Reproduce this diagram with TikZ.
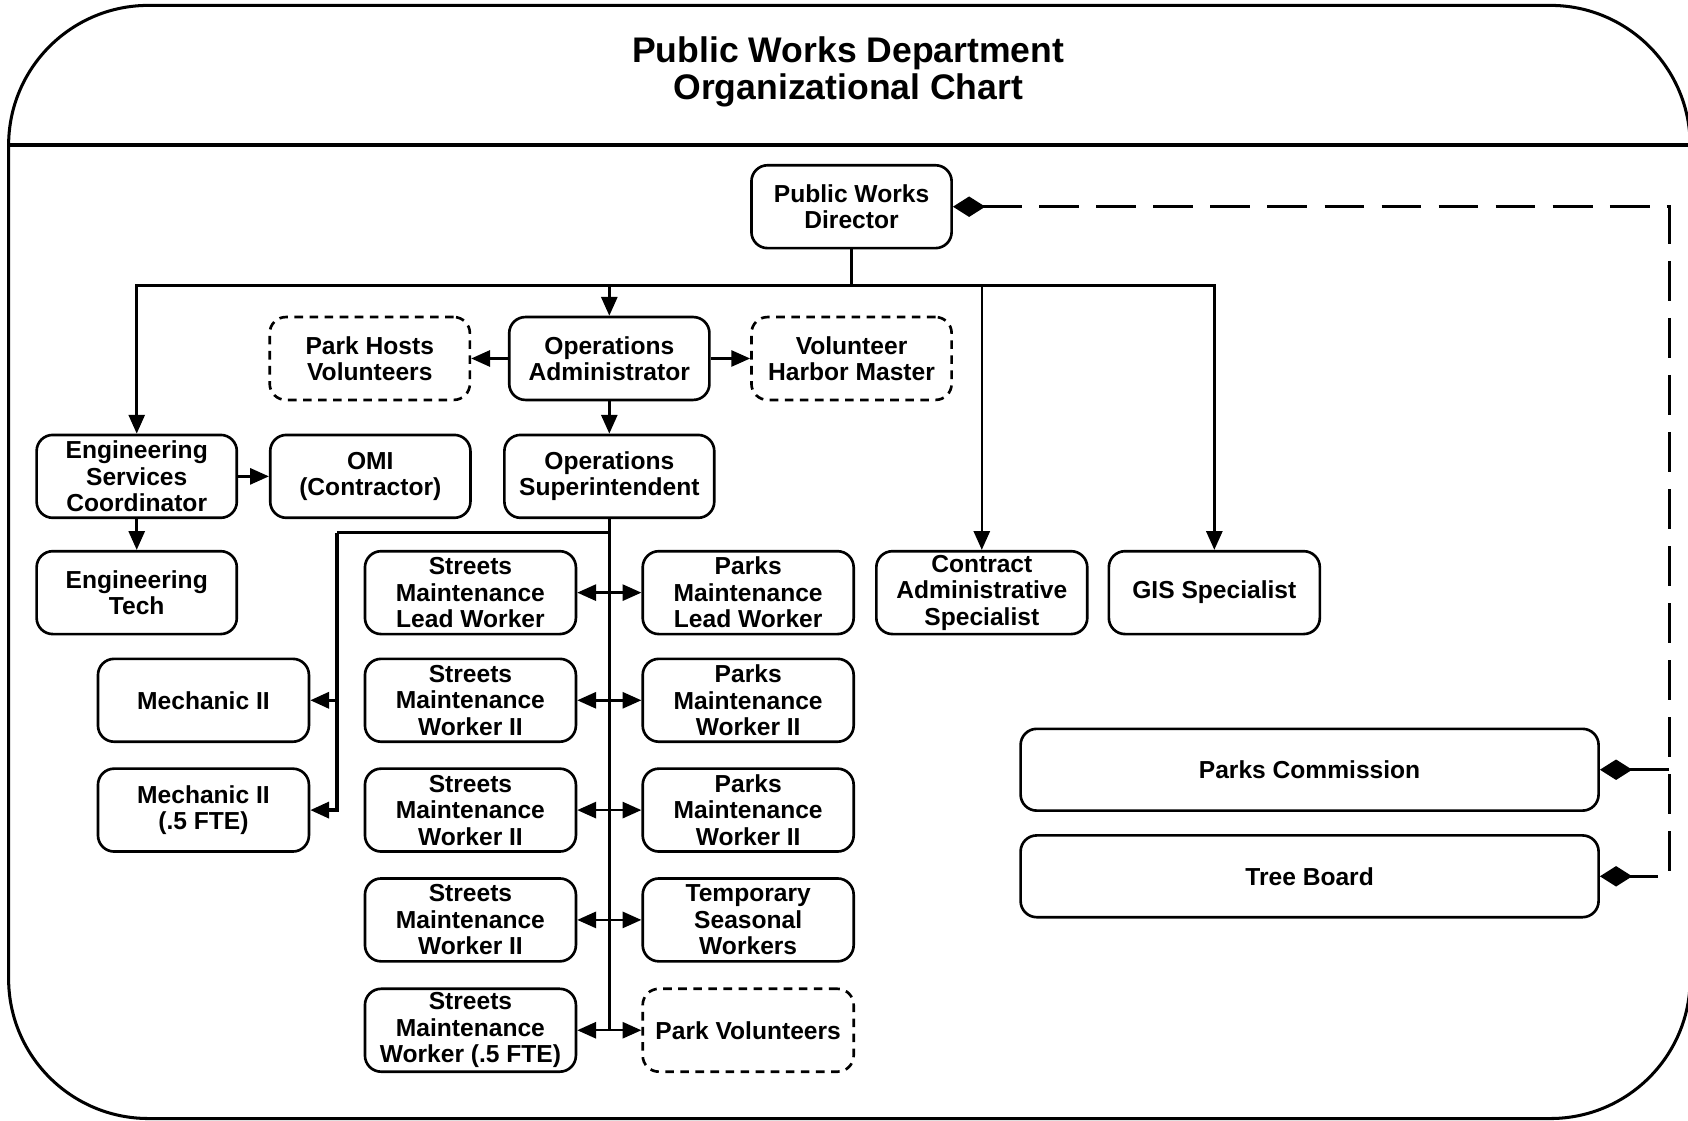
\documentclass[tikz,border=0pt]{standalone}
\usepackage{fontspec}
\setmainfont{Liberation Sans}
\usetikzlibrary{arrows.meta}

\begin{document}
\begin{tikzpicture}[x=0.02cm, y=-0.02cm,
    tri/.tip={Triangle[length=0.35cm, width=0.3cm]},
    dia/.tip={Diamond[length=0.6cm, width=0.38cm]},
    box/.style={draw, line width=1.4pt, rounded corners=0.3cm, align=center, inner sep=1pt,
        minimum width=3.72cm, minimum height=1.54cm, font=\fontsize{13}{14}\selectfont\bfseries},
    wbox/.style={box, minimum width=3.92cm},
    vol/.style={box, dash pattern=on 0.16cm off 0.12cm},
    board/.style={box, minimum width=10.74cm, minimum height=1.52cm},
    link/.style={line width=1.3pt},
    arrow/.style={link, -tri},
    dbl/.style={link, tri-tri},
    trunk/.style={line width=1.7pt},
    dline/.style={line width=1.7pt, dash pattern=on 0.74cm off 0.32cm}]

    % frame and title
    \useasboundingbox (0,0) rectangle (1568,1041);
    \begin{scope}
        \clip (0,0) rectangle (1568,1041);
        \draw[line width=1.6pt, rounded corners=2.6cm] (8,5) rectangle (1570,1039);
        \draw[line width=2pt] (8,135) -- (1570,135);
    \end{scope}
    \node[align=center, font=\fontsize{18.8}{19.5}\selectfont\bfseries] (title) at (788,67) {Public Works Department\\Organizational Chart};

    % top levels
    \node[box] (dir) at (791,192) {Public Works\\Director};
    \node[vol] (hosts) at (343.5,333) {Park Hosts\\Volunteers};
    \node[box] (opsadmin) at (566,333) {Operations\\Administrator};
    \node[vol] (harbor) at (791,333) {Volunteer\\Harbor Master};
    \node[box] (esc) at (127,442.5) {Engineering\\Services\\Coordinator};
    \node[box] (omi) at (344,442.5) {OMI\\(Contractor)};
    \node[box, minimum width=3.9cm] (opssup) at (566,442.5) {Operations\\Superintendent};
    \node[box] (engtech) at (127,550.5) {Engineering\\Tech};

    % crews
    \node[wbox] (slead) at (437,550.5) {Streets\\Maintenance\\Lead Worker};
    \node[wbox] (plead) at (695,550.5) {Parks\\Maintenance\\Lead Worker};
    \node[wbox] (cas) at (912,550.5) {Contract\\Administrative\\Specialist};
    \node[wbox] (gis) at (1128,550.5) {GIS Specialist};
    \node[wbox] (mech) at (189,650.5) {Mechanic II};
    \node[wbox] (sw1) at (437,650.5) {Streets\\Maintenance\\Worker II};
    \node[wbox] (pw1) at (695,650.5) {Parks\\Maintenance\\Worker II};
    \node[wbox] (mechhalf) at (189,752.5) {Mechanic II\\(.5 FTE)};
    \node[wbox] (sw2) at (437,752.5) {Streets\\Maintenance\\Worker II};
    \node[wbox] (pw2) at (695,752.5) {Parks\\Maintenance\\Worker II};
    \node[wbox] (sw3) at (437,854.5) {Streets\\Maintenance\\Worker II};
    \node[wbox] (temp) at (695,854.5) {Temporary\\Seasonal\\Workers};
    \node[wbox] (shalf) at (437,957) {Streets\\Maintenance\\Worker (.5 FTE)};
    \node[wbox, dash pattern=on 0.16cm off 0.12cm] (parkvol) at (695,957) {Park Volunteers};

    % boards
    \node[board] (parkcom) at (1216.5,715) {Parks Commission};
    \node[board] (tree) at (1216.5,814) {Tree Board};

    % reporting lines
    \coordinate (bus) at (791,265);
    \draw[trunk] (dir) -- (bus);
    \draw[trunk] (bus -| opsadmin) -- (bus -| cas);
    \foreach \t in {esc, opsadmin, cas, gis}
        \draw[arrow] (bus) -| (\t);
    \draw[arrow] (opsadmin) -- (hosts);
    \draw[arrow] (opsadmin) -- (harbor);
    \draw[arrow] (opsadmin) -- (opssup);
    \draw[arrow] (esc) -- (omi);
    \draw[arrow] (esc) -- (engtech);

    \coordinate (split) at (566,495);
    \coordinate (mbr) at (313,495);
    \draw[trunk] (opssup) -- (opssup |- shalf);
    \draw[trunk] (split) -- (mbr);
    \draw[trunk, -tri] (mbr) |- (mechhalf);
    \draw[trunk, -tri] (mbr |- mech) -- (mech);
    \foreach \s/\p in {slead/plead, sw1/pw1, sw2/pw2, sw3/temp, shalf/parkvol}
        \draw[dbl] (\s) -- (\p);

    % advisory boards
    \coordinate (rail) at (1551,192);
    \draw[dline, dia-dia] (dir) -- (rail) |- (tree);
    \draw[dline, dia-] (parkcom) -- (rail |- parkcom);
\end{tikzpicture}
\end{document}
